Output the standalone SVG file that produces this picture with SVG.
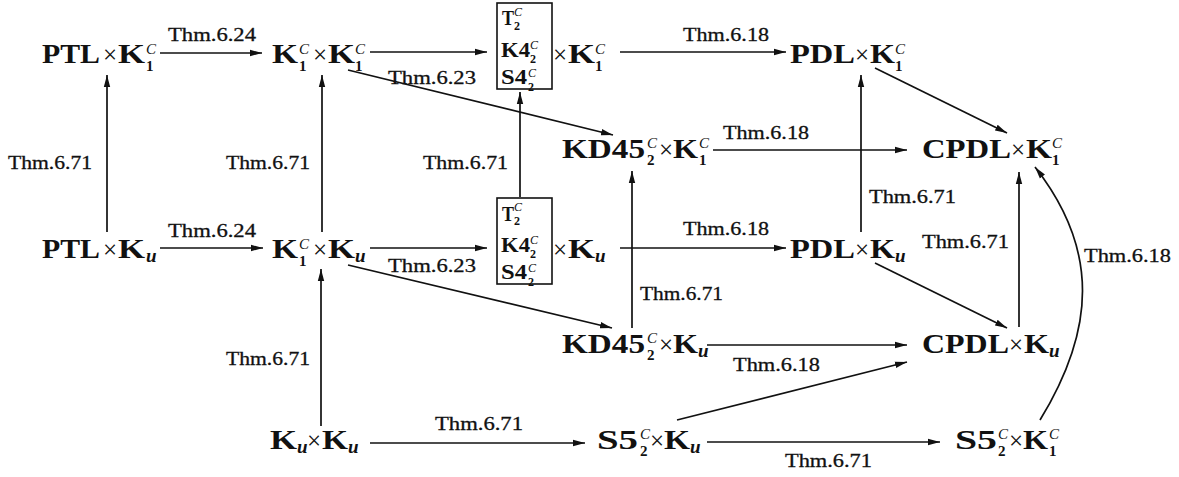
<svg xmlns="http://www.w3.org/2000/svg" width="1179" height="477" viewBox="0 0 1179 477">
<style>
text{font-family:"Liberation Serif","Times New Roman",serif;fill:#111}
.m{font-weight:bold;font-size:27px}
.x{font-size:25px;text-anchor:middle}
.sp{font-style:italic;font-size:15px}
.sb{font-weight:bold;font-size:15px}
.su{font-weight:bold;font-style:italic;font-size:19px}
.b{font-weight:bold;font-size:20px}
.bp{font-style:italic;font-size:12px}
.bs{font-weight:bold;font-size:12px}
.l{font-size:19px;stroke:#111;stroke-width:0.3}
.box{fill:none;stroke:#111;stroke-width:1.6}
.c{fill:none;stroke:#111;stroke-width:1.7;marker-end:url(#ah)}
</style>
<defs>
<marker id="ah" markerUnits="userSpaceOnUse" markerWidth="12" markerHeight="8" viewBox="0 0 12 8" refX="12" refY="4" orient="auto">
<path d="M0,0.8 L12,4 L0,7.2 z" fill="#111"/>
</marker>
</defs>

<g id="connectors">
<line class="c" x1="160" y1="53" x2="262" y2="53"/>
<line class="c" x1="370" y1="52" x2="487" y2="52"/>
<line class="c" x1="620" y1="52" x2="786" y2="52"/>
<line class="c" x1="348" y1="70" x2="613" y2="135"/>
<line class="c" x1="713" y1="150" x2="907" y2="150"/>
<line class="c" x1="875" y1="68" x2="1007" y2="133"/>
<line class="c" x1="107" y1="232" x2="107" y2="75"/>
<line class="c" x1="322" y1="232" x2="322" y2="75"/>
<line class="c" x1="520" y1="197" x2="520" y2="92"/>
<line class="c" x1="160" y1="248" x2="263" y2="248"/>
<line class="c" x1="370" y1="248" x2="487" y2="248"/>
<line class="c" x1="620" y1="248" x2="786" y2="248"/>
<line class="c" x1="348" y1="265" x2="612" y2="328"/>
<line class="c" x1="632" y1="328" x2="632" y2="171"/>
<line class="c" x1="861" y1="232" x2="861" y2="75"/>
<line class="c" x1="875" y1="263" x2="1007" y2="328"/>
<line class="c" x1="707" y1="345" x2="907" y2="345"/>
<line class="c" x1="1019" y1="327" x2="1019" y2="172"/>
<line class="c" x1="321" y1="426" x2="321" y2="269"/>
<line class="c" x1="370" y1="443" x2="585" y2="443"/>
<line class="c" x1="677" y1="420" x2="907" y2="362"/>
<line class="c" x1="707" y1="442" x2="940" y2="442"/>
<path class="c" d="M1040,420 C1095,330 1100,250 1035,167"/>
</g>

<g id="labels">
<text class="l" x="168" y="41" textLength="88" lengthAdjust="spacingAndGlyphs">Thm.6.24</text>
<text class="l" x="388" y="84" textLength="88" lengthAdjust="spacingAndGlyphs">Thm.6.23</text>
<text class="l" x="683" y="41" textLength="86" lengthAdjust="spacingAndGlyphs">Thm.6.18</text>
<text class="l" x="723" y="139" textLength="86" lengthAdjust="spacingAndGlyphs">Thm.6.18</text>
<text class="l" x="8" y="169" textLength="84" lengthAdjust="spacingAndGlyphs">Thm.6.71</text>
<text class="l" x="226" y="169" textLength="84" lengthAdjust="spacingAndGlyphs">Thm.6.71</text>
<text class="l" x="423" y="169" textLength="85" lengthAdjust="spacingAndGlyphs">Thm.6.71</text>
<text class="l" x="869" y="203" textLength="87" lengthAdjust="spacingAndGlyphs">Thm.6.71</text>
<text class="l" x="168" y="237" textLength="88" lengthAdjust="spacingAndGlyphs">Thm.6.24</text>
<text class="l" x="683" y="235" textLength="86" lengthAdjust="spacingAndGlyphs">Thm.6.18</text>
<text class="l" x="922" y="248" textLength="87" lengthAdjust="spacingAndGlyphs">Thm.6.71</text>
<text class="l" x="388" y="272" textLength="88" lengthAdjust="spacingAndGlyphs">Thm.6.23</text>
<text class="l" x="1084" y="262" textLength="87" lengthAdjust="spacingAndGlyphs">Thm.6.18</text>
<text class="l" x="640" y="300" textLength="83" lengthAdjust="spacingAndGlyphs">Thm.6.71</text>
<text class="l" x="226" y="365" textLength="84" lengthAdjust="spacingAndGlyphs">Thm.6.71</text>
<text class="l" x="733" y="371" textLength="87" lengthAdjust="spacingAndGlyphs">Thm.6.18</text>
<text class="l" x="435" y="430" textLength="88" lengthAdjust="spacingAndGlyphs">Thm.6.71</text>
<text class="l" x="785" y="467" textLength="87" lengthAdjust="spacingAndGlyphs">Thm.6.71</text>
</g>

<g id="n-ptl-k1c">
<text class="m" x="42" y="63" textLength="58" lengthAdjust="spacingAndGlyphs">PTL</text>
<text class="x" x="110" y="63">×</text>
<text class="m" x="118" y="63" textLength="27" lengthAdjust="spacingAndGlyphs">K</text>
<text class="sp" x="146" y="54">C</text>
<text class="sb" x="146" y="71">1</text>
</g>

<g id="n-k1c-k1c">
<text class="m" x="272" y="63" textLength="26" lengthAdjust="spacingAndGlyphs">K</text>
<text class="sp" x="299" y="54">C</text>
<text class="sb" x="299" y="71">1</text>
<text class="x" x="320" y="63">×</text>
<text class="m" x="328" y="63" textLength="27" lengthAdjust="spacingAndGlyphs">K</text>
<text class="sp" x="355" y="54">C</text>
<text class="sb" x="355" y="71">1</text>
</g>

<g id="n-box-k1c">
<rect class="box" x="497" y="3" width="55" height="86"/>
<text class="b" x="502" y="25" textLength="12" lengthAdjust="spacingAndGlyphs">T</text>
<text class="bp" x="514" y="16">C</text>
<text class="bs" x="514" y="30">2</text>
<text class="b" x="501" y="57" textLength="29" lengthAdjust="spacingAndGlyphs">K4</text>
<text class="bp" x="530" y="49">C</text>
<text class="bs" x="530" y="63">2</text>
<text class="b" x="501" y="84" textLength="26" lengthAdjust="spacingAndGlyphs">S4</text>
<text class="bp" x="528" y="77">C</text>
<text class="bs" x="528" y="91">2</text>
<text class="x" x="560" y="63">×</text>
<text class="m" x="568" y="63" textLength="27" lengthAdjust="spacingAndGlyphs">K</text>
<text class="sp" x="595" y="54">C</text>
<text class="sb" x="595" y="71">1</text>
</g>

<g id="n-pdl-k1c">
<text class="m" x="790" y="63" textLength="65" lengthAdjust="spacingAndGlyphs">PDL</text>
<text class="x" x="862" y="63">×</text>
<text class="m" x="870" y="63" textLength="25" lengthAdjust="spacingAndGlyphs">K</text>
<text class="sp" x="895" y="54">C</text>
<text class="sb" x="895" y="71">1</text>
</g>

<g id="n-kd45-k1c">
<text class="m" x="562" y="158" textLength="83" lengthAdjust="spacingAndGlyphs">KD45</text>
<text class="sp" x="647" y="148">C</text>
<text class="sb" x="647" y="165">2</text>
<text class="x" x="666" y="158">×</text>
<text class="m" x="673" y="158" textLength="25" lengthAdjust="spacingAndGlyphs">K</text>
<text class="sp" x="699" y="148">C</text>
<text class="sb" x="699" y="165">1</text>
</g>

<g id="n-cpdl-k1c">
<text class="m" x="922" y="158" textLength="89" lengthAdjust="spacingAndGlyphs">CPDL</text>
<text class="x" x="1018" y="158">×</text>
<text class="m" x="1026" y="158" textLength="26" lengthAdjust="spacingAndGlyphs">K</text>
<text class="sp" x="1052" y="148">C</text>
<text class="sb" x="1052" y="165">1</text>
</g>

<g id="n-ptl-ku">
<text class="m" x="42" y="258" textLength="58" lengthAdjust="spacingAndGlyphs">PTL</text>
<text class="x" x="110" y="258">×</text>
<text class="m" x="118" y="258" textLength="27" lengthAdjust="spacingAndGlyphs">K</text>
<text class="su" x="146" y="262">u</text>
</g>

<g id="n-k1c-ku">
<text class="m" x="272" y="258" textLength="26" lengthAdjust="spacingAndGlyphs">K</text>
<text class="sp" x="299" y="249">C</text>
<text class="sb" x="299" y="266">1</text>
<text class="x" x="320" y="258">×</text>
<text class="m" x="328" y="258" textLength="27" lengthAdjust="spacingAndGlyphs">K</text>
<text class="su" x="355" y="262">u</text>
</g>

<g id="n-box-ku">
<rect class="box" x="497" y="198" width="55" height="86"/>
<text class="b" x="502" y="221" textLength="12" lengthAdjust="spacingAndGlyphs">T</text>
<text class="bp" x="514" y="211">C</text>
<text class="bs" x="514" y="225">2</text>
<text class="b" x="501" y="252" textLength="29" lengthAdjust="spacingAndGlyphs">K4</text>
<text class="bp" x="530" y="244">C</text>
<text class="bs" x="530" y="258">2</text>
<text class="b" x="501" y="279" textLength="26" lengthAdjust="spacingAndGlyphs">S4</text>
<text class="bp" x="528" y="272">C</text>
<text class="bs" x="528" y="286">2</text>
<text class="x" x="560" y="258">×</text>
<text class="m" x="568" y="258" textLength="27" lengthAdjust="spacingAndGlyphs">K</text>
<text class="su" x="595" y="262">u</text>
</g>

<g id="n-pdl-ku">
<text class="m" x="790" y="258" textLength="65" lengthAdjust="spacingAndGlyphs">PDL</text>
<text class="x" x="862" y="258">×</text>
<text class="m" x="870" y="258" textLength="25" lengthAdjust="spacingAndGlyphs">K</text>
<text class="su" x="895" y="262">u</text>
</g>

<g id="n-kd45-ku">
<text class="m" x="562" y="353" textLength="83" lengthAdjust="spacingAndGlyphs">KD45</text>
<text class="sp" x="647" y="343">C</text>
<text class="sb" x="647" y="360">2</text>
<text class="x" x="666" y="353">×</text>
<text class="m" x="673" y="353" textLength="25" lengthAdjust="spacingAndGlyphs">K</text>
<text class="su" x="698" y="357">u</text>
</g>

<g id="n-cpdl-ku">
<text class="m" x="922" y="353" textLength="87" lengthAdjust="spacingAndGlyphs">CPDL</text>
<text class="x" x="1016" y="353">×</text>
<text class="m" x="1024" y="353" textLength="25" lengthAdjust="spacingAndGlyphs">K</text>
<text class="su" x="1049" y="357">u</text>
</g>

<g id="n-ku-ku">
<text class="m" x="270" y="449" textLength="27" lengthAdjust="spacingAndGlyphs">K</text>
<text class="su" x="297" y="453">u</text>
<text class="x" x="314" y="449">×</text>
<text class="m" x="322" y="449" textLength="26" lengthAdjust="spacingAndGlyphs">K</text>
<text class="su" x="348" y="453">u</text>
</g>

<g id="n-s5-ku">
<text class="m" x="597" y="449" textLength="41" lengthAdjust="spacingAndGlyphs">S5</text>
<text class="sp" x="640" y="439">C</text>
<text class="sb" x="640" y="456">2</text>
<text class="x" x="657" y="449">×</text>
<text class="m" x="664" y="449" textLength="26" lengthAdjust="spacingAndGlyphs">K</text>
<text class="su" x="690" y="453">u</text>
</g>

<g id="n-s5-k1c">
<text class="m" x="955" y="449" textLength="42" lengthAdjust="spacingAndGlyphs">S5</text>
<text class="sp" x="998" y="439">C</text>
<text class="sb" x="998" y="456">2</text>
<text class="x" x="1016" y="449">×</text>
<text class="m" x="1023" y="449" textLength="25" lengthAdjust="spacingAndGlyphs">K</text>
<text class="sp" x="1049" y="439">C</text>
<text class="sb" x="1049" y="456">1</text>
</g>
</svg>
